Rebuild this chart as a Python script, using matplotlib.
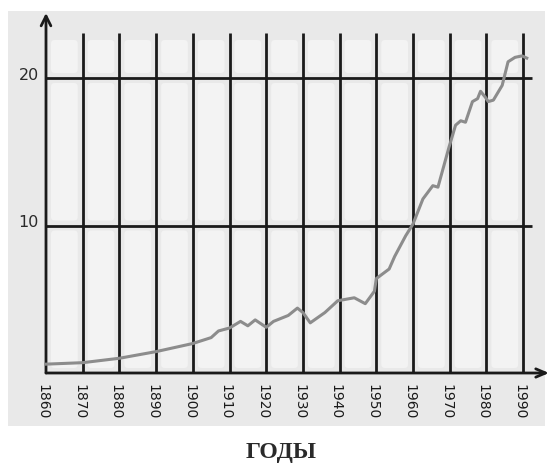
import matplotlib
matplotlib.use("Agg")
from matplotlib import pyplot as plt
from matplotlib.patches import Rectangle, FancyBboxPatch

# data
years = [1860, 1870, 1880, 1890, 1900, 1905, 1907, 1910, 1913, 1915, 1917,
         1920, 1922, 1926, 1928.5, 1930, 1932, 1936, 1939.5, 1944, 1947,
         1949.5, 1950, 1953.5, 1955, 1958, 1960, 1962.7, 1965.4, 1966.8,
         1969.8, 1971.6, 1973, 1974.3, 1976.2, 1977.6, 1978.4, 1979.7,
         1980.5, 1981.9, 1984.3, 1985.9, 1987.8, 1989.7, 1991]
values = [0.6, 0.7, 1.0, 1.45, 2.0, 2.4, 2.85, 3.05, 3.5, 3.2, 3.6,
          3.1, 3.5, 3.9, 4.4, 4.1, 3.4, 4.1, 4.9, 5.1, 4.7,
          5.55, 6.4, 7.05, 7.9, 9.3, 10.1, 11.8, 12.7, 12.6,
          15.3, 16.8, 17.1, 17.0, 18.4, 18.6, 19.1, 18.7,
          18.4, 18.5, 19.5, 21.1, 21.4, 21.5, 21.35]

decades = list(range(1860, 2000, 10))
levels = [10, 20]
level_labels = ["10", "20"]
x_title = "ГОДЫ"

W, H = 550, 464
fig = plt.figure(figsize=(W / 100, H / 100), dpi=100)
fig.patch.set_facecolor("white")

# mapping: 1860 at px 46, 3.67 px per year; value 0 at px 374, 14.75 px per unit
px_year = 3.67
px_unit = 14.75
x0, y0 = 46, 374
xmin = 1860 - x0 / px_year
xmax = 1860 + (W - x0) / px_year
ymin = -(H - y0) / px_unit
ymax = y0 / px_unit

ax = fig.add_axes([0, 0, 1, 1])
ax.set_xlim(xmin, xmax)
ax.set_ylim(ymin, ymax)
ax.axis("off")


def px(x, y):
    return xmin + x / px_year, ymax - y / px_unit


# gray background panel
bx, by = px(8, 427)
ax.add_patch(Rectangle((bx, by), 537 / px_year, 415 / px_unit,
                       facecolor="#e9e9e9", edgecolor="none", zorder=0))

# lighter cells between the grid lines
top = px(0, 36)[1]
rows = [(0, 10), (10, 20), (20, top)]
inset_x = 5 / px_year
inset_y = 5 / px_unit
for left in decades[:-1]:
    for lo, hi in rows:
        ax.add_patch(FancyBboxPatch(
            (left + inset_x, lo + inset_y),
            10 - 2 * inset_x, hi - lo - 2 * inset_y,
            boxstyle="round,pad=0,rounding_size=1",
            mutation_aspect=px_year / px_unit,
            facecolor="#f3f3f3", edgecolor="none", zorder=0.5))

lw = 2.0
line_top = px(0, 34)[1]
ax.vlines(decades[1:], 0, line_top, colors="#1a1a1a", lw=lw, zorder=2)
hl_right = px(532, 0)[0]
ax.hlines(levels, 1860, hl_right, colors="#1a1a1a", lw=lw, zorder=2)

# axes with arrows
arrow_top = px(0, 14)[1]
arrow_right = px(549, 0)[0]
ax.annotate("", xy=(1860, arrow_top), xytext=(1860, 0),
            arrowprops=dict(arrowstyle="->,head_length=0.7,head_width=0.35",
                            lw=lw, color="#1a1a1a", shrinkA=0, shrinkB=0),
            zorder=3)
ax.annotate("", xy=(arrow_right, 0), xytext=(1860, 0),
            arrowprops=dict(arrowstyle="->,head_length=0.7,head_width=0.3",
                            lw=lw, color="#1a1a1a", shrinkA=0, shrinkB=0),
            zorder=3)

# the series
ax.plot(years, values, color="#8c8c8c", lw=2.2, zorder=4,
        solid_joinstyle="round")

# tick labels
label_y = px(0, 384)[1]
for d in decades:
    ax.text(d - 1.0, label_y, str(d), rotation=270, ha="center", va="top",
            fontsize=10, color="#1a1a1a", family="DejaVu Sans")

for v, s in zip(levels, level_labels):
    ax.text(px(39, 0)[0], v + 0.25, s, ha="right", va="center",
            fontsize=11.5, color="#2a2a2a", family="DejaVu Sans")

tx, ty = px(281, 453)
ax.text(tx, ty, x_title, ha="center", va="center", fontsize=17,
        fontweight="bold", color="#2a2a2a", family="Liberation Serif")

fig.savefig("out.png", dpi=100)
